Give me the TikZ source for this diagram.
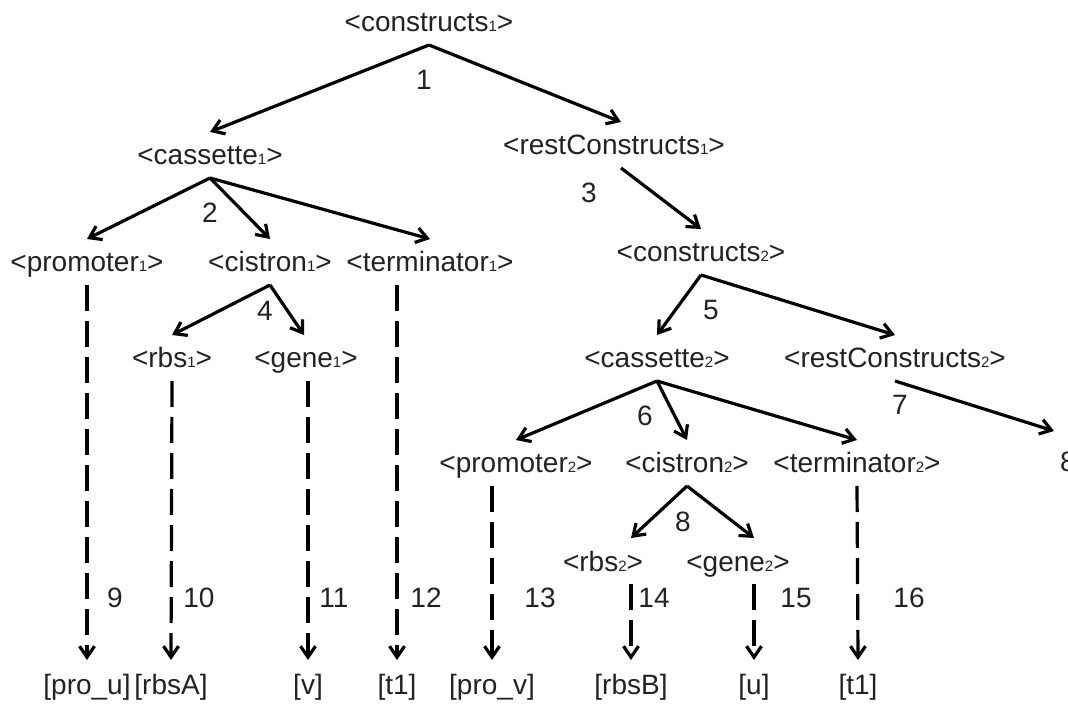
\documentclass[tikz,border=0pt]{standalone}
\usepackage{fontspec}
\setmainfont{Liberation Sans}
\usetikzlibrary{arrows.meta}
\definecolor{ink}{HTML}{222222}
% small index digit after a nonterminal name
\newcommand\idx[1]{{\fontsize{7.5}{8}\selectfont #1}}

\begin{document}
\begin{tikzpicture}[x=0.5pt,y=-0.5pt,
  every node/.style={font=\fontsize{14}{16}\selectfont, text=ink},
  nt/.style={inner sep=0pt, outer xsep=0pt, outer ysep=3.5pt, text height=13pt, text depth=3pt},
  leaf/.style={inner sep=0pt, outer xsep=0pt, outer ysep=7pt, text height=10pt, text depth=3pt},
  num/.style={inner sep=0pt},
  arr/.style={draw=black, line width=1.6pt, -{Straight Barb[length=5.5pt,width=7.5pt]}},
  der/.style={arr, dash pattern=on 13pt off 5pt}]
\useasboundingbox (0,0) rectangle (1068,704);

% nonterminals
\node[nt] (c1)   at (429,22)  {<constructs\idx{1}>};
\node[nt] (cas1) at (210,155) {<cassette\idx{1}>};
\node[nt] (rc1)  at (614,145) {<restConstructs\idx{1}>};
\node[nt] (pr1)  at (87,262)  {<promoter\idx{1}>};
\node[nt] (ci1)  at (270,262) {<cistron\idx{1}>};
\node[nt] (te1)  at (430,262) {<terminator\idx{1}>};
\node[nt] (rb1)  at (172,358) {<rbs\idx{1}>};
\node[nt] (ge1)  at (306,358) {<gene\idx{1}>};
\node[nt] (c2)   at (701,252) {<constructs\idx{2}>};
\node[nt] (cas2) at (657,358) {<cassette\idx{2}>};
\node[nt] (rc2)  at (895,358) {<restConstructs\idx{2}>};
\node[nt] (pr2)  at (516,463) {<promoter\idx{2}>};
\node[nt] (ci2)  at (687,463) {<cistron\idx{2}>};
\node[nt] (te2)  at (857,463) {<terminator\idx{2}>};
\node[nt] (rb2)  at (603,561) {<rbs\idx{2}>};
\node[nt] (ge2)  at (738,561) {<gene\idx{2}>};
\node[nt] (c3)   at (1068,462) {8};

% terminals
\node[leaf] (lpu) at (87,687)  {[pro\_u]};
\node[leaf] (lra) at (171,687) {[rbsA]};
\node[leaf] (lv)  at (308,687) {[v]};
\node[leaf] (lt1) at (397,687) {[t1]};
\node[leaf] (lpv) at (492,687) {[pro\_v]};
\node[leaf] (lrb) at (631,687) {[rbsB]};
\node[leaf] (lu)  at (754,687) {[u]};
\node[leaf] (lt2) at (858,687) {[t1]};

% derivation steps
\draw[arr] (c1.south) -- (cas1.north);
\draw[arr] (c1.south) -- ([xshift=3.5pt]rc1.north);
\draw[arr] ([xshift=3.5pt]rc1.south) -- (c2.north);
\draw[arr] (cas1.south) -- (pr1.north);
\draw[arr] (cas1.south) -- (ci1.north);
\draw[arr] (cas1.south) -- (te1.north);
\draw[arr] (ci1.south) -- (rb1.north);
\draw[arr] (ci1.south) -- ([xshift=-1pt]ge1.north);
\draw[arr] (c2.south) -- (cas2.north);
\draw[arr] (c2.south) -- (rc2.north);
\draw[arr] (cas2.south) -- (pr2.north);
\draw[arr] (cas2.south) -- (ci2.north);
\draw[arr] (cas2.south) -- (te2.north);
\draw[arr] (rc2.south) -- ([xshift=-7pt,yshift=4pt]c3.north);
\draw[arr] (ci2.south) -- (rb2.north -| lrb);
\draw[arr] (ci2.south) -- (ge2.north -| lu);

% lexical steps
\draw[der] (pr1.south) -- (lpu.north);
\draw[der] (rb1.south) -- (lra.north);
\draw[der] (ge1.south -| lv) -- (lv.north);
\draw[der] (te1.south -| lt1) -- (lt1.north);
\draw[der] (pr2.south -| lpv) -- (lpv.north);
\draw[der] (rb2.south -| lrb) -- (lrb.north);
\draw[der] (ge2.south -| lu) -- (lu.north);
\draw[der] (te2.south) -- (lt2.north);

% step numbers
\node[num] (n1)  at (424,80)  {1};
\node[num] (n2)  at (210,213) {2};
\node[num] (n3)  at (589,193) {3};
\node[num] (n4)  at (265,311) {4};
\node[num] (n5)  at (711,310) {5};
\node[num] (n6)  at (645,416) {6};
\node[num] (n7)  at (900,405) {7};
\node[num] (n8)  at (683,522) {8};
\node[num] (n9)  at (115,598) {9};
\node[num] (n10) at (199,598) {10};
\node[num] (n11) at (334,598) {11};
\node[num] (n12) at (426,598) {12};
\node[num] (n13) at (540,598) {13};
\node[num] (n14) at (654,598) {14};
\node[num] (n15) at (796,598) {15};
\node[num] (n16) at (909,598) {16};
\end{tikzpicture}
\end{document}
